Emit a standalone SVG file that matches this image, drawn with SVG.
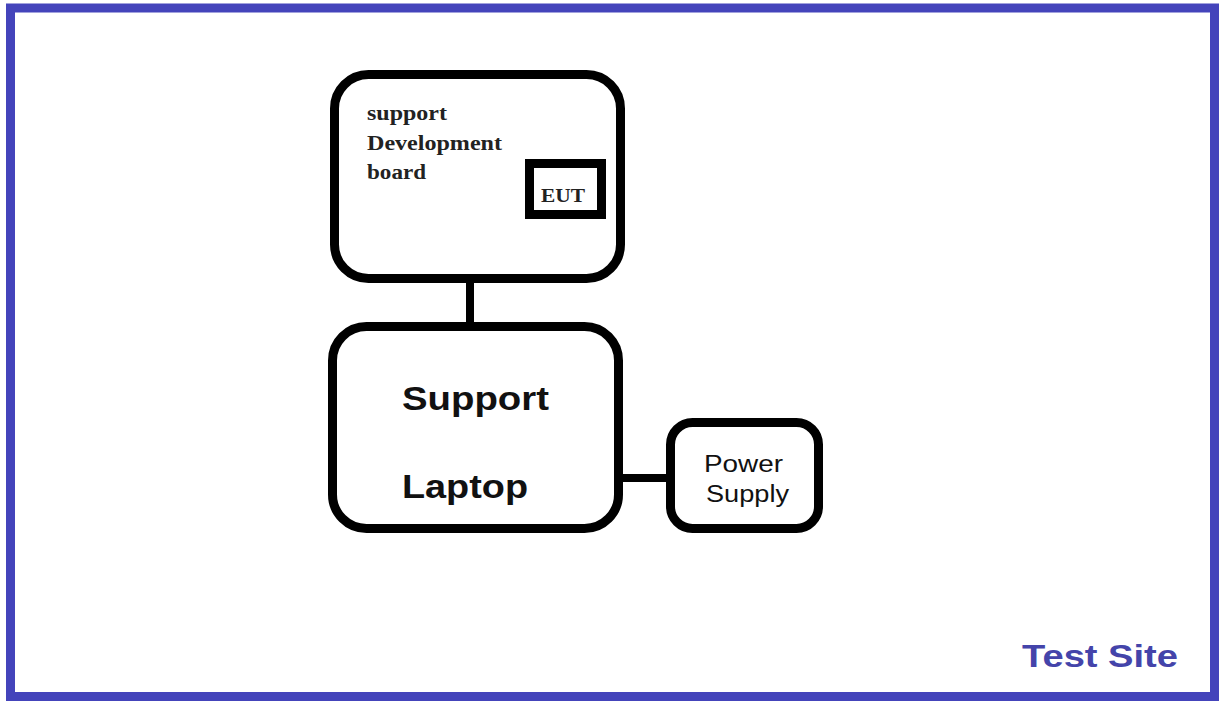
<svg xmlns="http://www.w3.org/2000/svg" width="1220" height="701" viewBox="0 0 1220 701">
<style>
.box{fill:#fff;stroke:#000;stroke-width:9}
.conn{stroke:#000;stroke-width:8;fill:none}
.serif{font-family:"Liberation Serif",serif;font-weight:bold;fill:#222}
.sans{font-family:"Liberation Sans",Arial,sans-serif;font-weight:bold;fill:#111}
.reg{font-weight:normal}
</style>
<rect x="0" y="0" width="1220" height="701" fill="#fff"/>
<rect x="10.5" y="8" width="1204" height="688.5" fill="#fff" stroke="#4444bb" stroke-width="9"/>
<g id="connectors">
<line class="conn" x1="470" y1="280" x2="470" y2="326"/>
<line class="conn" x1="620" y1="478" x2="670" y2="478"/>
</g>
<g id="devboard">
<rect class="box" x="334.5" y="74.5" width="286" height="204" rx="34"/>
<text class="serif" font-size="20" x="367" y="120" textLength="80" lengthAdjust="spacingAndGlyphs">support</text>
<text class="serif" font-size="20" x="367" y="150" textLength="135" lengthAdjust="spacingAndGlyphs">Development</text>
<text class="serif" font-size="20" x="367" y="179" textLength="59" lengthAdjust="spacingAndGlyphs">board</text>
</g>
<g id="eut">
<rect class="box" x="529.5" y="163.5" width="72" height="51"/>
<text class="serif" font-size="19" x="541" y="202" textLength="44" lengthAdjust="spacingAndGlyphs">EUT</text>
</g>
<g id="laptop">
<rect class="box" x="332.5" y="326.5" width="286" height="202" rx="34"/>
<text class="sans" font-size="34" x="402" y="410" textLength="147" lengthAdjust="spacingAndGlyphs">Support</text>
<text class="sans" font-size="34" x="402" y="498" textLength="126" lengthAdjust="spacingAndGlyphs">Laptop</text>
</g>
<g id="power">
<rect class="box" x="670.5" y="422.5" width="148" height="106" rx="22"/>
<text class="sans reg" font-size="23" x="704" y="472" textLength="79" lengthAdjust="spacingAndGlyphs">Power</text>
<text class="sans reg" font-size="23" x="706" y="502" textLength="83" lengthAdjust="spacingAndGlyphs">Supply</text>
</g>
<g id="testsite">
<text class="sans" font-size="31" x="1022" y="667" textLength="156" lengthAdjust="spacingAndGlyphs" style="fill:#4444aa">Test Site</text>
</g>
</svg>
